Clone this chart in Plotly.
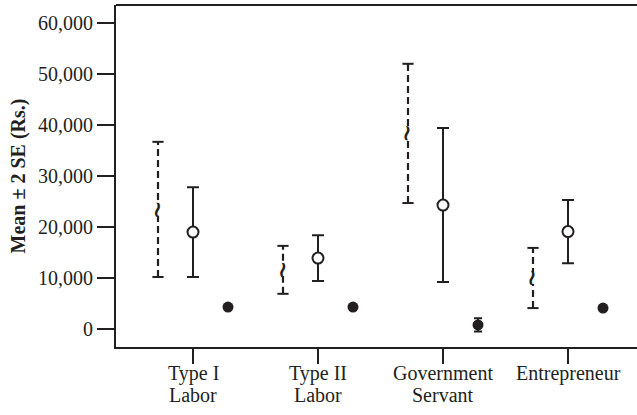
import plotly.graph_objects as go

categories = ["Type I<br>Labor", "Type II<br>Labor", "Government<br>Servant", "Entrepreneur"]

# Series A (dashed, broken-circle marker)
a_mean = [23400, 11600, 38400, 10000]
a_low = [10200, 6900, 24700, 4100]
a_high = [36700, 16300, 52000, 15900]

# Series B (solid, open circle)
b_mean = [19000, 13900, 24300, 19100]
b_low = [10200, 9400, 9200, 12900]
b_high = [27800, 18400, 39400, 25300]

# Series C (filled circle)
c_mean = [4300, 4300, 800, 4100]
c_low = [4300, 4300, -500, 4100]
c_high = [4300, 4300, 2100, 4100]

y_ticks = [0, 10000, 20000, 30000, 40000, 50000, 60000]

offset = 0.28
ink = "#231f20"
n = len(categories)
xa = [i - offset for i in range(n)]
xb = [i for i in range(n)]
xc = [i + offset for i in range(n)]

fig = go.Figure()

# dashed vertical lines for series A
lx, ly = [], []
for x, lo, hi in zip(xa, a_low, a_high):
    lx += [x, x, None]
    ly += [lo, hi, None]
fig.add_trace(go.Scatter(x=lx, y=ly, mode="lines",
                         line=dict(color=ink, width=2.2, dash="7px,4px"),
                         hoverinfo="skip", showlegend=False))
# caps for A
fig.add_trace(go.Scatter(x=xa + xa, y=a_low + a_high, mode="markers",
                         marker=dict(symbol="line-ew", size=8, line=dict(color=ink, width=2)),
                         showlegend=False))
# gap at mean
fig.add_trace(go.Scatter(x=xa, y=a_mean, mode="markers",
                         marker=dict(symbol="circle", size=12, color="white", line=dict(width=0)),
                         showlegend=False))

# Series B
fig.add_trace(go.Scatter(x=xb, y=b_mean, mode="markers",
                         marker=dict(symbol="circle", size=11, color="white",
                                     line=dict(color=ink, width=2)),
                         error_y=dict(type="data", symmetric=False,
                                      array=[h - m for h, m in zip(b_high, b_mean)],
                                      arrayminus=[m - l for m, l in zip(b_mean, b_low)],
                                      color=ink, thickness=2, width=6),
                         showlegend=False))

# Series C
fig.add_trace(go.Scatter(x=xc, y=c_mean, mode="markers",
                         marker=dict(symbol="circle", size=11, color=ink,
                                     line=dict(color=ink, width=0)),
                         error_y=dict(type="data", symmetric=False,
                                      array=[h - m for h, m in zip(c_high, c_mean)],
                                      arrayminus=[m - l for m, l in zip(c_mean, c_low)],
                                      color=ink, thickness=2, width=4),
                         showlegend=False))

annotations = []
# squiggle (broken dashed circle) at series A means
for x, m in zip(xa, a_mean):
    annotations.append(dict(x=x, xref="x", y=m, yref="y", text="<b>~</b>", showarrow=False,
                            textangle=100, xanchor="center", yanchor="middle",
                            font=dict(family="DejaVu Sans", size=22, color=ink)))

# category labels as annotations (two lines each)
for x, lab in zip(xb, categories):
    parts = lab.split("<br>")
    for k, p in enumerate(parts):
        annotations.append(dict(x=x, xref="x", y=0, yref="paper", text=p, showarrow=False,
                                yanchor="middle", xanchor="center", yshift=-26 - 22 * k,
                                font=dict(family="Liberation Serif", size=20, color=ink)))

fig.update_layout(
    width=637, height=415,
    margin=dict(l=116, r=0, t=5, b=68),
    paper_bgcolor="white", plot_bgcolor="white",
    font=dict(family="Liberation Serif", size=20, color=ink),
    showlegend=False,
    annotations=annotations,
    xaxis=dict(range=[-0.616, 3.552], tickmode="array", tickvals=xb, showticklabels=False,
               showgrid=False, zeroline=False, showline=True, linecolor=ink, linewidth=2,
               mirror=False, ticks="outside", ticklen=15, tickwidth=1.5, tickcolor=ink,
               automargin=False),
    yaxis=dict(range=[-3530, 63530], tickvals=y_ticks,
               tickformat=",d", showgrid=False, zeroline=False, showline=True,
               linecolor=ink, linewidth=2, ticks="outside", ticklen=17, tickwidth=1.5,
               tickcolor=ink, tickfont=dict(size=20), automargin=False,
               title=dict(text="<b>Mean ± 2 SE (Rs.)</b>", font=dict(size=20), standoff=7)),
    shapes=[dict(type="line", xref="paper", yref="paper", x0=0, x1=1, y0=1, y1=1,
                 line=dict(color=ink, width=2))],
)

fig.write_html("out.html", config={"displayModeBar": False},
               post_script="document.body.style.margin='0';document.body.style.padding='0';"
                           "document.body.style.overflow='hidden';")
